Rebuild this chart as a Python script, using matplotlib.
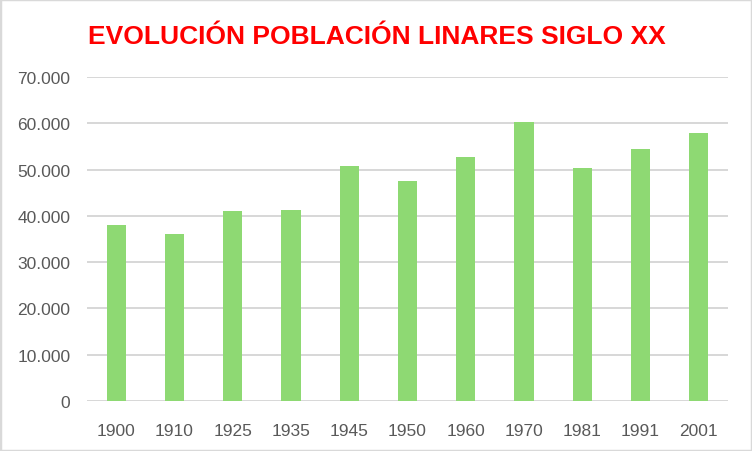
import matplotlib
matplotlib.use("Agg")
import matplotlib.pyplot as plt
from matplotlib.patches import Rectangle
from matplotlib.ticker import FuncFormatter

years = ["1900", "1910", "1925", "1935", "1945", "1950", "1960", "1970", "1981", "1991", "2001"]
population = [38050, 36100, 41080, 41300, 50870, 47550, 52750, 60200, 50430, 54550, 57800]
yticks = [0, 10000, 20000, 30000, 40000, 50000, 60000, 70000]
title = "EVOLUCIÓN POBLACIÓN LINARES SIGLO XX"

W, H = 752, 452
fig = plt.figure(figsize=(W / 100, H / 100), dpi=100)
ax = fig.add_axes([87 / W, 1 - 402 / H, (728 - 87) / W, (402 - 78) / H])

ax.bar(range(len(years)), population, width=0.33, color="#8ED973", zorder=3)
ax.set_xlim(-0.5, len(years) - 0.5)
ax.set_ylim(0, 70000)
ax.set_yticks(yticks)
ax.yaxis.set_major_formatter(FuncFormatter(lambda v, p: "0" if v == 0 else f"{int(v):,}".replace(",", ".")))
ax.set_xticks(range(len(years)))
ax.set_xticklabels(years)
ax.grid(axis="y", color="#D4D4D4", linewidth=1.3, zorder=0)
for s in ax.spines.values():
    s.set_visible(False)
ax.tick_params(length=0, labelsize=12.5, labelcolor="#595959")
for lab in ax.get_xticklabels() + ax.get_yticklabels():
    lab.set_family("Liberation Sans")
ax.tick_params(axis="y", pad=12)
ax.tick_params(axis="x", pad=16)

t = fig.text(88 / W, 1 - 35 / H, title, color="#FF0000", fontsize=24, fontweight="bold",
             family="Liberation Sans", ha="left", va="center_baseline")
fig.canvas.draw()
bb = t.get_window_extent()
t.set_fontsize(24 * 579 / bb.width)

fig.patches.append(Rectangle((0, 0), 1, 1, transform=fig.transFigure, fill=False,
                             edgecolor="#D9D9D9", linewidth=2.5))
fig.savefig("out.png", dpi=100)
